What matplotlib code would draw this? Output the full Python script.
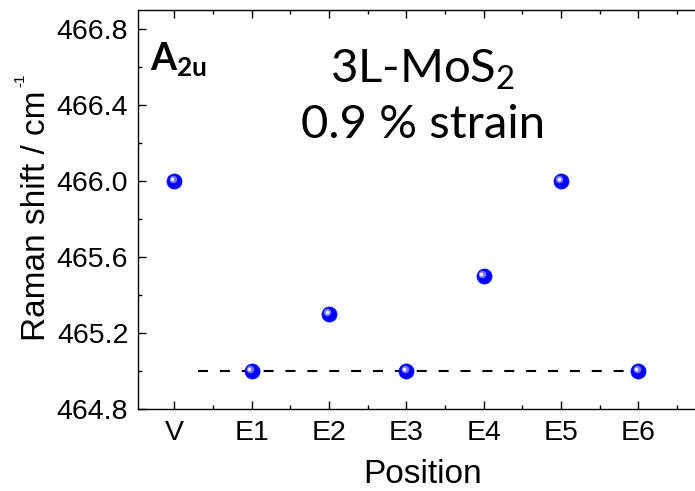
import matplotlib
matplotlib.use("Agg")
import matplotlib.pyplot as plt
from matplotlib.ticker import MultipleLocator, FixedLocator, FormatStrFormatter
from matplotlib.transforms import offset_copy

positions = ["V", "E1", "E2", "E3", "E4", "E5", "E6"]
raman_shift = [466.0, 465.0, 465.3, 465.0, 465.5, 466.0, 465.0]
reference_level = 465.0

plt.rcParams['font.family'] = ['Liberation Sans', 'DejaVu Sans']
plt.rcParams['mathtext.fontset'] = 'custom'
plt.rcParams['mathtext.rm'] = 'Lato'
plt.rcParams['mathtext.it'] = 'Lato:italic'
plt.rcParams['mathtext.bf'] = 'Lato:bold'

fig = plt.figure(figsize=(6.95, 4.91), dpi=100)
W, H = 695, 491
ax = fig.add_axes([138 / W, 1 - 409 / H, (708 - 138) / W, (409 - 10) / H])

x = list(range(len(positions)))

# reference dashed line
ax.plot([0.3, 6.2], [reference_level, reference_level], ls=(0, (4.8, 5.7)),
        color='black', lw=1.5, zorder=2)

# shaded spheres: blue body plus a soft highlight towards the upper left
ax.plot(x, raman_shift, 'o', ms=10.8, color='#0000ff', mec='#1010e0', mew=0.6, zorder=3)
hl_mid = offset_copy(ax.transData, fig=fig, x=-1.3, y=1.3, units='points')
ax.plot(x, raman_shift, 'o', ms=5.5, color='#6f6fff', mew=0, transform=hl_mid, zorder=4)
hl = offset_copy(ax.transData, fig=fig, x=-1.8, y=1.8, units='points')
ax.plot(x, raman_shift, 'o', ms=2.8, color='#e8e8ff', mew=0, transform=hl, zorder=5)

ax.set_xlim(-0.47, 6.9)
ax.set_ylim(464.8, 466.9)

ax.set_xticks(x)
ax.set_xticklabels(positions)
ax.xaxis.set_minor_locator(FixedLocator([i + 0.5 for i in range(-1, 7)]))
ax.yaxis.set_major_locator(MultipleLocator(0.4))
ax.yaxis.set_minor_locator(MultipleLocator(0.2))
ax.yaxis.set_major_formatter(FormatStrFormatter('%.1f'))

ax.tick_params(which='both', direction='in', top=True, right=False, width=1.0,
               labelsize=20.5, pad=7)
ax.tick_params(which='major', length=6)
ax.tick_params(which='minor', length=3)
ax.tick_params(axis='x', which='major', pad=8)
for s in ['left', 'bottom', 'top']:
    ax.spines[s].set_linewidth(1.0)
ax.spines['right'].set_visible(False)

ax.set_xlabel('Position', fontsize=24, labelpad=9)

# y-axis title with a small raised exponent
fig.text(37 / W, 1 - 216 / H, 'Raman shift / cm', fontsize=24, rotation=90,
         ha='center', va='center')
fig.text(20 / W, 1 - 80 / H, '-1', fontsize=11, rotation=90,
         ha='center', va='center')

ax.text(0.021, 0.925, r'$\mathbf{A_{2u}}$', transform=ax.transAxes,
        fontsize=27, ha='left', va='top')
fig.text(423 / W, 1 - 70 / H, '3L-MoS$_2$', fontsize=34, ha='center', va='center',
         family=['Lato', 'DejaVu Sans'])
fig.text(423 / W, 1 - 125 / H, '0.9 % strain', fontsize=34, ha='center', va='center',
         family=['Lato', 'DejaVu Sans'])

fig.savefig('out.png', dpi=100)
